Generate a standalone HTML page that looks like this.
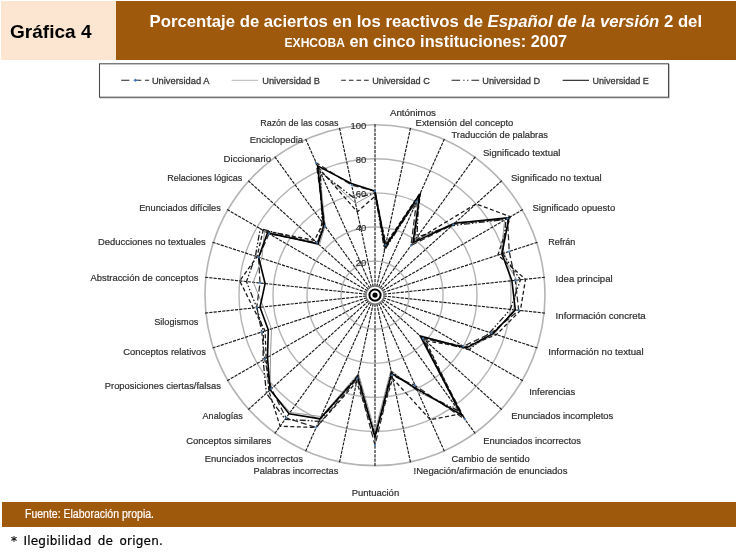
<!DOCTYPE html>
<html lang="es">
<head>
<meta charset="utf-8">
<title>Gráfica 4</title>
<style>
html,body{margin:0;padding:0;background:#fff;}
body{width:737px;height:560px;position:relative;overflow:hidden;font-family:"Liberation Sans",sans-serif;}
.hd-left{position:absolute;left:1.2px;top:1.2px;width:115.1px;height:58.8px;background:#fde6d1;}
.hd-left span{position:absolute;left:9.1px;top:19.6px;font-weight:bold;font-size:18.4px;line-height:22px;color:#000;white-space:nowrap;transform-origin:0 50%;transform:scaleX(1.035);}
.hd-right{position:absolute;left:116.3px;top:1.2px;width:619.5px;height:58.8px;background:#9e590c;color:#fff;font-weight:bold;text-align:center;}
.hd-right .l1,.hd-right .l2{position:absolute;left:-40px;right:-40px;white-space:nowrap;font-size:16.5px;line-height:20px;}
.hd-right .l1{top:9.6px;}#t1{transform:scaleX(1.0124);}#t2{transform:scaleX(0.989);}
.hd-right .l2{top:29.8px;}
.hd-right span.w{display:inline-block;transform-origin:50% 50%;}
.sc{font-size:12.2px;}
.chart{position:absolute;left:0;top:0;}
.soft{filter:blur(0.5px);}
.lbl text{font-family:"Liberation Sans",sans-serif;font-size:9.5px;fill:#2e2e2e;stroke:#2e2e2e;stroke-width:0.2px;}
.leg text{font-size:9.3px;fill:#383838;stroke:#383838;stroke-width:0.3px;}
.ft{position:absolute;left:1.6px;top:502px;width:734.3px;height:24.8px;background:#9e590c;}
.ft span{position:absolute;left:23.6px;top:5.3px;-webkit-text-stroke:0.2px #fff;font-size:12px;line-height:14px;color:#fff;white-space:nowrap;transform-origin:0 50%;transform:scaleX(0.875);}
.note{position:absolute;left:11px;top:534px;-webkit-text-stroke:0.2px #000;font-family:"DejaVu Sans","Liberation Sans",sans-serif;font-size:12px;line-height:14px;color:#000;white-space:nowrap;word-spacing:2.2px;letter-spacing:0.22px;}
</style>
</head>
<body>
<div class="hd-left"><span id="g4">Gráfica 4</span></div>
<div class="hd-right">
<div class="l1"><span class="w" id="t1">Porcentaje de aciertos en los reactivos de <i>Español de la versión</i> 2 del</span></div>
<div class="l2"><span class="w" id="t2"><span class="sc">EXHCOBA</span> en cinco instituciones: 2007</span></div>
</div>
<svg class="chart" width="737" height="560" viewBox="0 0 737 560">
<g class="soft">
<rect x="100.3" y="64.6" width="569" height="33.4" fill="none" stroke="#bbb" stroke-width="1"/>
<rect x="99.5" y="63.8" width="569" height="33.4" fill="#fff" stroke="#4a4a4a" stroke-width="1.05"/>
<g fill="none" stroke="#b4b4b4" stroke-width="1.4">
<ellipse cx="375.0" cy="295.15" rx="34.0" ry="34.09"/>
<ellipse cx="375.0" cy="295.15" rx="68.0" ry="68.18"/>
<ellipse cx="375.0" cy="295.15" rx="102.0" ry="102.27"/>
<ellipse cx="375.0" cy="295.15" rx="136.0" ry="136.36"/>
<ellipse cx="375.0" cy="295.15" rx="170.0" ry="170.45" stroke-width="1.6"/>
</g>
<g stroke="#1a1a1a" stroke-width="1.15" stroke-dasharray="3.2 1.1">
<line x1="375.0" y1="295.1" x2="375.0" y2="123.7"/>
<line x1="375.0" y1="295.1" x2="410.6" y2="127.4"/>
<line x1="375.0" y1="295.1" x2="444.6" y2="138.5"/>
<line x1="375.0" y1="295.1" x2="475.5" y2="156.4"/>
<line x1="375.0" y1="295.1" x2="502.1" y2="180.4"/>
<line x1="375.0" y1="295.1" x2="523.1" y2="209.4"/>
<line x1="375.0" y1="295.1" x2="537.6" y2="242.2"/>
<line x1="375.0" y1="295.1" x2="545.1" y2="277.2"/>
<line x1="375.0" y1="295.1" x2="545.1" y2="313.1"/>
<line x1="375.0" y1="295.1" x2="537.6" y2="348.1"/>
<line x1="375.0" y1="295.1" x2="523.1" y2="380.9"/>
<line x1="375.0" y1="295.1" x2="502.1" y2="409.9"/>
<line x1="375.0" y1="295.1" x2="475.5" y2="433.9"/>
<line x1="375.0" y1="295.1" x2="444.6" y2="451.8"/>
<line x1="375.0" y1="295.1" x2="410.6" y2="462.9"/>
<line x1="375.0" y1="295.1" x2="375.0" y2="466.6"/>
<line x1="375.0" y1="295.1" x2="339.4" y2="462.9"/>
<line x1="375.0" y1="295.1" x2="305.4" y2="451.8"/>
<line x1="375.0" y1="295.1" x2="274.5" y2="433.9"/>
<line x1="375.0" y1="295.1" x2="247.9" y2="409.9"/>
<line x1="375.0" y1="295.1" x2="226.9" y2="380.9"/>
<line x1="375.0" y1="295.1" x2="212.4" y2="348.1"/>
<line x1="375.0" y1="295.1" x2="204.9" y2="313.1"/>
<line x1="375.0" y1="295.1" x2="204.9" y2="277.2"/>
<line x1="375.0" y1="295.1" x2="212.4" y2="242.2"/>
<line x1="375.0" y1="295.1" x2="226.9" y2="209.4"/>
<line x1="375.0" y1="295.1" x2="247.9" y2="180.4"/>
<line x1="375.0" y1="295.1" x2="274.5" y2="156.4"/>
<line x1="375.0" y1="295.1" x2="305.4" y2="138.5"/>
<line x1="375.0" y1="295.1" x2="339.4" y2="127.4"/>
</g>
<circle cx="375.0" cy="295.1" r="9" fill="#fff" stroke="#777" stroke-width="1.2"/>
<circle cx="375.0" cy="295.1" r="5.6" fill="#fff" stroke="#000" stroke-width="2"/>
<circle cx="375.0" cy="295.1" r="2.6" fill="#000"/>
<g fill="none" stroke-linejoin="miter">
<polygon points="375.0,192.9 384.9,248.5 417.9,198.6 415.0,240.0 455.9,222.2 504.6,220.2 501.1,254.1 517.0,280.2 513.6,309.8 494.6,334.1 467.8,348.8 419.2,335.1 459.9,412.4 417.9,391.7 390.9,370.2 375.0,431.5 358.4,373.5 321.1,416.6 290.1,412.4 270.1,389.8 270.5,355.7 271.5,328.9 263.4,306.9 253.3,282.3 261.8,258.3 264.6,231.2 319.4,245.0 325.0,226.2 319.7,170.6 355.6,203.5" stroke="#8c8c8c" stroke-width="0.9"/>
<polygon points="375.0,196.3 386.0,243.5 420.6,192.4 414.0,241.4 476.1,203.9 510.4,216.7 497.9,255.1 525.5,279.3 520.4,310.5 496.3,334.7 464.8,347.1 425.5,340.8 460.9,413.7 430.3,419.7 392.7,378.5 375.0,434.9 356.6,381.8 316.2,427.5 280.1,426.2 268.9,391.0 266.1,358.2 265.1,331.0 253.3,308.0 239.7,280.9 257.0,256.7 263.1,230.4 314.4,240.4 323.0,223.4 318.3,167.5 357.3,211.8" stroke="#1a1a1a" stroke-width="1.3" stroke-dasharray="4 2.5"/>
<polygon points="375.0,192.9 384.5,250.1 418.6,197.1 417.0,237.2 452.1,225.6 506.0,219.3 502.7,253.5 520.4,279.8 510.3,309.4 489.8,332.5 469.2,349.7 421.7,337.3 458.9,411.0 417.2,390.1 391.3,371.8 375.0,438.3 358.0,375.2 319.0,421.3 285.1,419.3 266.4,393.2 263.1,359.9 263.4,331.5 256.7,307.6 246.5,281.6 255.4,256.2 260.2,228.7 318.1,243.8 322.0,222.1 320.4,172.1 354.5,198.4" stroke="#1a1a1a" stroke-width="1.3" stroke-dasharray="6 2 1.5 2 1.5 2"/>
<polygon points="375.0,191.2 385.6,245.1 416.5,201.7 411.0,245.5 453.3,224.4 507.5,218.4 509.2,251.4 515.3,280.4 518.7,310.3 491.4,333.1 463.3,346.3 423.0,338.5 464.9,419.3 415.1,385.5 392.0,375.2 375.0,445.1 357.3,378.5 316.2,427.5 286.1,417.9 271.4,388.7 264.6,359.1 261.8,332.0 256.7,307.6 260.0,283.0 258.6,257.2 269.0,233.8 316.9,242.7 325.0,226.2 316.2,162.8 351.7,185.1" stroke="#2a2a2a" stroke-width="1.3" stroke-dasharray="6 3"/>
<polygon points="375.0,191.2 385.3,246.8 419.9,193.9 413.0,242.7 454.6,223.3 509.0,217.6 501.9,253.8 511.9,280.7 515.3,309.9 493.0,333.6 466.3,348.0 420.5,336.2 461.9,415.1 416.5,388.6 391.6,373.5 375.0,436.6 357.7,376.8 320.0,418.9 289.1,413.7 270.1,389.8 267.5,357.4 268.3,329.9 260.0,307.3 265.1,283.6 258.6,257.2 267.5,232.9 318.1,243.8 324.0,224.8 317.6,165.9 351.3,183.4" stroke="#000" stroke-width="1.6"/>
</g>
<g fill="#4a86c5" opacity="0.85">
<circle cx="375.0" cy="191.2" r="1.15"/>
<circle cx="385.6" cy="245.1" r="1.15"/>
<circle cx="416.5" cy="201.7" r="1.15"/>
<circle cx="411.0" cy="245.5" r="1.15"/>
<circle cx="453.3" cy="224.4" r="1.15"/>
<circle cx="507.5" cy="218.4" r="1.15"/>
<circle cx="509.2" cy="251.4" r="1.15"/>
<circle cx="515.3" cy="280.4" r="1.15"/>
<circle cx="518.7" cy="310.3" r="1.15"/>
<circle cx="491.4" cy="333.1" r="1.15"/>
<circle cx="463.3" cy="346.3" r="1.15"/>
<circle cx="423.0" cy="338.5" r="1.15"/>
<circle cx="464.9" cy="419.3" r="1.15"/>
<circle cx="415.1" cy="385.5" r="1.15"/>
<circle cx="392.0" cy="375.2" r="1.15"/>
<circle cx="375.0" cy="445.1" r="1.15"/>
<circle cx="357.3" cy="378.5" r="1.15"/>
<circle cx="316.2" cy="427.5" r="1.15"/>
<circle cx="286.1" cy="417.9" r="1.15"/>
<circle cx="271.4" cy="388.7" r="1.15"/>
<circle cx="264.6" cy="359.1" r="1.15"/>
<circle cx="261.8" cy="332.0" r="1.15"/>
<circle cx="256.7" cy="307.6" r="1.15"/>
<circle cx="260.0" cy="283.0" r="1.15"/>
<circle cx="258.6" cy="257.2" r="1.15"/>
<circle cx="269.0" cy="233.8" r="1.15"/>
<circle cx="316.9" cy="242.7" r="1.15"/>
<circle cx="325.0" cy="226.2" r="1.15"/>
<circle cx="316.2" cy="162.8" r="1.15"/>
<circle cx="351.7" cy="185.1" r="1.15"/>
</g>
<g class="lbl" text-anchor="end">
<text x="366.3" y="265.6">20</text>
<text x="366.3" y="231.0">40</text>
<text x="366.3" y="196.9">60</text>
<text x="366.3" y="162.8">80</text>
<text x="366.3" y="128.7">100</text>
</g>
<g class="lbl">
<text x="389.9" y="115.9" textLength="46.1" lengthAdjust="spacingAndGlyphs">Antónimos</text>
<text x="415.6" y="126.0" textLength="97.7" lengthAdjust="spacingAndGlyphs">Extensión del concepto</text>
<text x="451.5" y="137.7" textLength="96.5" lengthAdjust="spacingAndGlyphs">Traducción de palabras</text>
<text x="483.0" y="155.8" textLength="77.4" lengthAdjust="spacingAndGlyphs">Significado textual</text>
<text x="511.0" y="180.8" textLength="90.7" lengthAdjust="spacingAndGlyphs">Significado no textual</text>
<text x="532.5" y="211.2" textLength="82.7" lengthAdjust="spacingAndGlyphs">Significado opuesto</text>
<text x="548.3" y="245.0" textLength="27.1" lengthAdjust="spacingAndGlyphs">Refrán</text>
<text x="555.6" y="281.6" textLength="57.0" lengthAdjust="spacingAndGlyphs">Idea principal</text>
<text x="555.6" y="318.5" textLength="90.1" lengthAdjust="spacingAndGlyphs">Información concreta</text>
<text x="548.2" y="354.5" textLength="95.5" lengthAdjust="spacingAndGlyphs">Información no textual</text>
<text x="529.2" y="394.9" textLength="46.1" lengthAdjust="spacingAndGlyphs">Inferencias</text>
<text x="511.2" y="418.5" textLength="102.1" lengthAdjust="spacingAndGlyphs">Enunciados incompletos</text>
<text x="483.3" y="443.7" textLength="97.7" lengthAdjust="spacingAndGlyphs">Enunciados incorrectos</text>
<text x="451.6" y="462.1" textLength="78.1" lengthAdjust="spacingAndGlyphs">Cambio de sentido</text>
<text x="413.6" y="473.8" textLength="153.8" lengthAdjust="spacingAndGlyphs">!Negación/afirmación de enunciados</text>
<text x="351.7" y="495.5" textLength="47.5" lengthAdjust="spacingAndGlyphs">Puntuación</text>
<text x="253.6" y="473.6" textLength="84.7" lengthAdjust="spacingAndGlyphs">Palabras incorrectas</text>
<text x="204.8" y="461.7" textLength="98.2" lengthAdjust="spacingAndGlyphs">Enunciados incorrectos</text>
<text x="186.3" y="443.8" textLength="85.0" lengthAdjust="spacingAndGlyphs">Conceptos similares</text>
<text x="202.6" y="418.5" textLength="40.2" lengthAdjust="spacingAndGlyphs">Analogías</text>
<text x="104.8" y="388.8" textLength="116.1" lengthAdjust="spacingAndGlyphs">Proposiciones ciertas/falsas</text>
<text x="123.2" y="354.6" textLength="82.8" lengthAdjust="spacingAndGlyphs">Conceptos relativos</text>
<text x="154.2" y="324.5" textLength="44.2" lengthAdjust="spacingAndGlyphs">Silogismos</text>
<text x="90.4" y="281.2" textLength="108.0" lengthAdjust="spacingAndGlyphs">Abstracción de conceptos</text>
<text x="98.0" y="244.9" textLength="107.7" lengthAdjust="spacingAndGlyphs">Deducciones no textuales</text>
<text x="139.2" y="210.9" textLength="81.7" lengthAdjust="spacingAndGlyphs">Enunciados difíciles</text>
<text x="167.2" y="180.9" textLength="75.2" lengthAdjust="spacingAndGlyphs">Relaciones lógicas</text>
<text x="223.6" y="162.2" textLength="47.5" lengthAdjust="spacingAndGlyphs">Diccionario</text>
<text x="249.7" y="143.2" textLength="53.4" lengthAdjust="spacingAndGlyphs">Enciclopedia</text>
<text x="260.2" y="125.6" textLength="78.2" lengthAdjust="spacingAndGlyphs">Razón de las cosas</text>
</g>
<g class="lbl leg">
<path d="M121.2 80.3h8.2M136 80.3h5.3M145 80.3h4.1" stroke="#222" stroke-width="1.1" fill="none"/>
<path d="M133.2 80.3l2.8 -1.7v1.1h2.2v1.2h-2.2v1.1z" fill="#3f78b5"/>
<text x="151.9" y="84.3" textLength="57.5" lengthAdjust="spacingAndGlyphs">Universidad A</text>
<line x1="231.6" y1="80.3" x2="258.2" y2="80.3" stroke="#a8a8a8" stroke-width="0.85"/>
<text x="262.3" y="84.3" textLength="57.6" lengthAdjust="spacingAndGlyphs">Universidad B</text>
<line x1="341.2" y1="80.3" x2="368.8" y2="80.3" stroke="#222" stroke-width="1.1" stroke-dasharray="4.7 2.9"/>
<text x="372.2" y="84.3" textLength="57.6" lengthAdjust="spacingAndGlyphs">Universidad C</text>
<line x1="451.6" y1="80.3" x2="479.1" y2="80.3" stroke="#222" stroke-width="1.1" stroke-dasharray="8.5 3.2 1.2 2.6 1.2 3.2 8"/>
<text x="482.3" y="84.3" textLength="57.9" lengthAdjust="spacingAndGlyphs">Universidad D</text>
<line x1="562.7" y1="80.3" x2="589.0" y2="80.3" stroke="#111" stroke-width="1.05"/>
<text x="592.6" y="84.3" textLength="56.1" lengthAdjust="spacingAndGlyphs">Universidad E</text>
</g>
</g>
</g>
</svg>
<div class="ft"><span id="fu">Fuente: Elaboración propia.</span></div>
<div class="note" id="nt">* Ilegibilidad de origen.</div>
</body>
</html>
